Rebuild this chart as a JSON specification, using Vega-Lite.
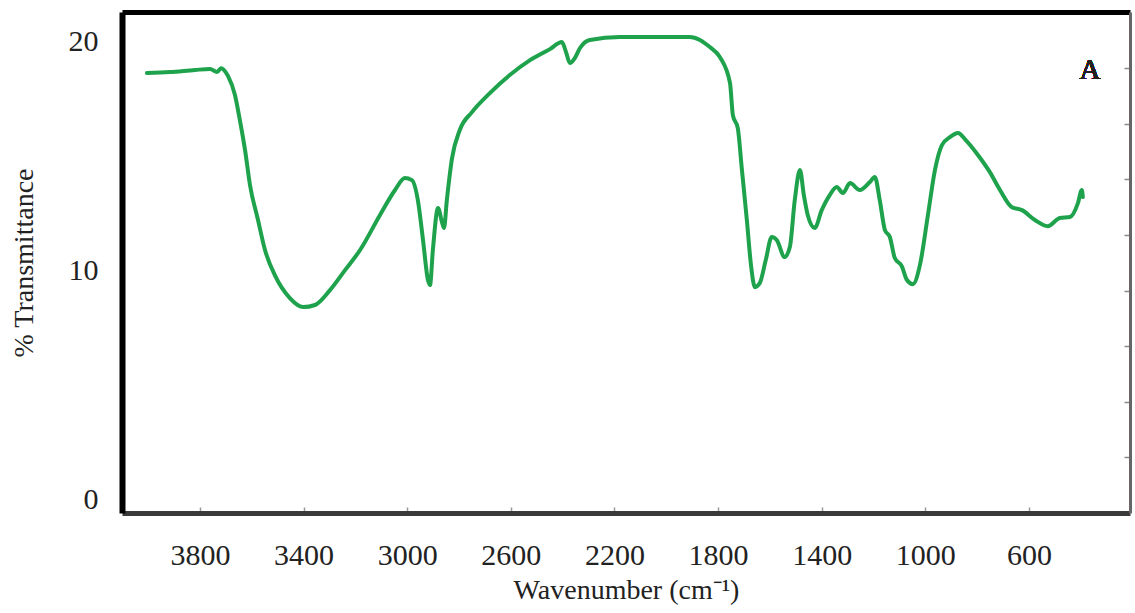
{
  "$schema": "https://vega.github.io/schema/vega-lite/v6.json",
  "autosize": "none",
  "width": 1008,
  "height": 501,
  "padding": {"left": 122, "top": 12, "right": 5, "bottom": 100},
  "background": "white",
  "config": {
    "view": {"stroke": null},
    "font": "Liberation Serif"
  },
  "data": {
    "values": [
      {"wn": 4005, "t": 18.61}, {"wn": 3916, "t": 18.65}, {"wn": 3819, "t": 18.74}, {"wn": 3761, "t": 18.78},
      {"wn": 3734, "t": 18.65}, {"wn": 3719, "t": 18.82}, {"wn": 3692, "t": 18.48}, {"wn": 3665, "t": 17.65},
      {"wn": 3646, "t": 16.55}, {"wn": 3626, "t": 15.24}, {"wn": 3607, "t": 13.72}, {"wn": 3576, "t": 12.19},
      {"wn": 3549, "t": 10.88}, {"wn": 3511, "t": 9.78}, {"wn": 3453, "t": 8.78}, {"wn": 3402, "t": 8.39},
      {"wn": 3356, "t": 8.48}, {"wn": 3298, "t": 9.13}, {"wn": 3240, "t": 10.0}, {"wn": 3182, "t": 10.88},
      {"wn": 3105, "t": 12.41}, {"wn": 3047, "t": 13.5}, {"wn": 3009, "t": 14.02}, {"wn": 2982, "t": 13.93},
      {"wn": 2959, "t": 13.06}, {"wn": 2939, "t": 11.31}, {"wn": 2920, "t": 9.57}, {"wn": 2912, "t": 9.35},
      {"wn": 2901, "t": 10.88}, {"wn": 2881, "t": 12.71}, {"wn": 2866, "t": 12.1}, {"wn": 2858, "t": 11.84},
      {"wn": 2847, "t": 13.06}, {"wn": 2827, "t": 14.89}, {"wn": 2797, "t": 16.12}, {"wn": 2750, "t": 16.9},
      {"wn": 2681, "t": 17.73}, {"wn": 2604, "t": 18.52}, {"wn": 2526, "t": 19.17}, {"wn": 2449, "t": 19.65},
      {"wn": 2403, "t": 19.96}, {"wn": 2387, "t": 19.52}, {"wn": 2372, "t": 19.04}, {"wn": 2353, "t": 19.26},
      {"wn": 2333, "t": 19.7}, {"wn": 2295, "t": 20.05}, {"wn": 2179, "t": 20.18}, {"wn": 2025, "t": 20.18},
      {"wn": 1909, "t": 20.18}, {"wn": 1870, "t": 20.05}, {"wn": 1832, "t": 19.74}, {"wn": 1793, "t": 19.3},
      {"wn": 1754, "t": 18.17}, {"wn": 1743, "t": 16.77}, {"wn": 1724, "t": 16.2}, {"wn": 1708, "t": 14.37},
      {"wn": 1689, "t": 12.19}, {"wn": 1673, "t": 10.22}, {"wn": 1658, "t": 9.26}, {"wn": 1639, "t": 9.44},
      {"wn": 1616, "t": 10.44}, {"wn": 1593, "t": 11.45}, {"wn": 1573, "t": 11.31}, {"wn": 1543, "t": 10.57},
      {"wn": 1523, "t": 11.01}, {"wn": 1504, "t": 13.06}, {"wn": 1484, "t": 14.37}, {"wn": 1469, "t": 13.28},
      {"wn": 1454, "t": 12.41}, {"wn": 1427, "t": 11.84}, {"wn": 1400, "t": 12.62}, {"wn": 1369, "t": 13.28},
      {"wn": 1342, "t": 13.63}, {"wn": 1318, "t": 13.37}, {"wn": 1291, "t": 13.8}, {"wn": 1253, "t": 13.5},
      {"wn": 1214, "t": 13.85}, {"wn": 1195, "t": 14.07}, {"wn": 1176, "t": 13.06}, {"wn": 1156, "t": 11.75},
      {"wn": 1137, "t": 11.45}, {"wn": 1118, "t": 10.53}, {"wn": 1091, "t": 10.18}, {"wn": 1071, "t": 9.57},
      {"wn": 1048, "t": 9.39}, {"wn": 1021, "t": 10.22}, {"wn": 990, "t": 12.41}, {"wn": 963, "t": 14.37},
      {"wn": 936, "t": 15.46}, {"wn": 905, "t": 15.81}, {"wn": 874, "t": 15.99}, {"wn": 844, "t": 15.68},
      {"wn": 797, "t": 15.03}, {"wn": 751, "t": 14.28}, {"wn": 712, "t": 13.5}, {"wn": 666, "t": 12.75},
      {"wn": 627, "t": 12.62}, {"wn": 577, "t": 12.19}, {"wn": 527, "t": 11.92}, {"wn": 481, "t": 12.28},
      {"wn": 442, "t": 12.32}, {"wn": 411, "t": 12.93}, {"wn": 396, "t": 13.5}, {"wn": 392, "t": 13.19}
    ]
  },
  "layer": [
    {
      "mark": {"type": "line", "color": "#1ea34c", "strokeWidth": 4, "interpolate": "monotone", "strokeJoin": "round", "strokeCap": "round"},
      "encoding": {
        "x": {
          "field": "wn", "type": "quantitative", "sort": null,
          "scale": {"domain": [210, 4101], "reverse": true, "nice": false, "zero": false},
          "axis": {
            "orient": "bottom",
            "title": "Wavenumber  (cm⁻¹)",
            "titleFont": "Liberation Serif", "titleFontSize": 28, "titleFontWeight": "normal", "titleColor": "#222",
            "titlePadding": 6,
            "values": [3800, 3400, 3000, 2600, 2200, 1800, 1400, 1000, 600],
            "format": "d",
            "labelFont": "Liberation Serif", "labelFontSize": 30, "labelColor": "#222",
            "labelPadding": 33,
            "grid": false,
            "domainColor": "#3a3a3a", "domainWidth": 5,
            "tickColor": "#999", "tickWidth": 1.5, "tickSize": -6
          }
        },
        "y": {
          "field": "t", "type": "quantitative",
          "scale": {"domain": [-0.6, 21.27], "nice": false, "zero": false},
          "axis": {
            "orient": "left",
            "title": "% Transmittance",
            "titleFont": "Liberation Serif", "titleFontSize": 28, "titleFontWeight": "normal", "titleColor": "#222",
            "titlePadding": 30,
            "values": [0, 10, 20],
            "labelFont": "Liberation Serif", "labelFontSize": 30, "labelColor": "#222",
            "labelPadding": 24,
            "ticks": false,
            "grid": false,
            "domainColor": "#000", "domainWidth": 6
          }
        }
      }
    },
    {
      "mark": {"type": "text", "text": "A", "font": "Liberation Serif", "fontSize": 29, "color": "#222", "align": "center", "baseline": "middle"},
      "encoding": {
        "x": {
          "datum": 365, "type": "quantitative",
          "scale": {"domain": [210, 4101], "reverse": true, "nice": false, "zero": false},
          "axis": {"orient": "top", "title": null, "labels": false, "ticks": false, "grid": false, "domainColor": "#000", "domainWidth": 5}
        },
        "y": {
          "datum": 18.75, "type": "quantitative",
          "scale": {"domain": [-0.6, 21.27], "nice": false, "zero": false},
          "axis": {
            "orient": "right", "title": null, "labels": false, "grid": false,
            "values": [18.82, 16.4, 13.97, 11.54, 9.11, 6.68, 4.26, 1.83],
            "tickSize": -6, "tickColor": "#888", "tickWidth": 1.5,
            "domainColor": "#666", "domainWidth": 3
          }
        }
      }
    }
  ],
  "resolve": {"axis": {"x": "independent", "y": "independent"}}
}
